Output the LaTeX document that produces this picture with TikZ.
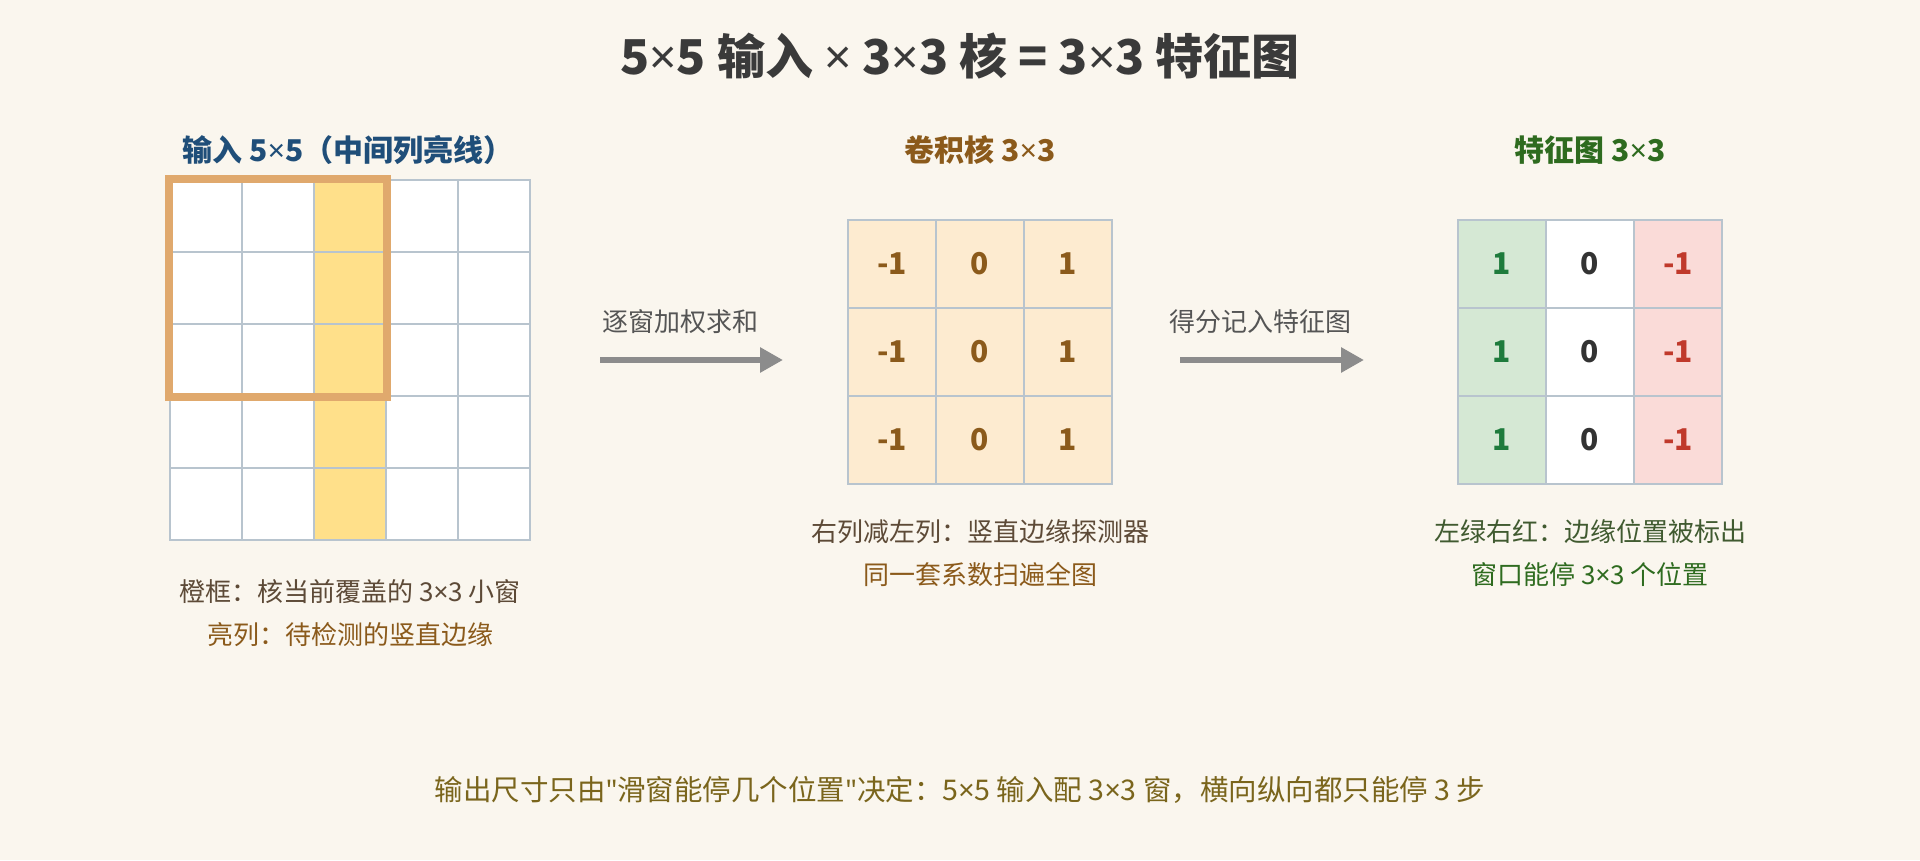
\documentclass[tikz,border=0pt]{standalone}
\usepackage{fontspec}
\setmainfont{Noto Sans CJK SC}[Ligatures=TeXOff]
\newfontfamily\latfont{Noto Sans}[Ligatures=TeXOff]
\usetikzlibrary{arrows.meta}
\definecolor{bgc}{HTML}{FAF6EE}
\definecolor{gridc}{HTML}{B8C4CE}
\definecolor{hlc}{HTML}{FFE08A}
\definecolor{framec}{HTML}{E0A96D}
\definecolor{kfill}{HTML}{FDEBD0}
\definecolor{brownc}{HTML}{8B5A1B}
\definecolor{bluec}{HTML}{1F4E79}
\definecolor{greenc}{HTML}{2E6B1F}
\definecolor{gfill}{HTML}{D5E8D4}
\definecolor{rfill}{HTML}{FADBD8}
\definecolor{gnum}{HTML}{1E7B3C}
\definecolor{rnum}{HTML}{C0392B}
\definecolor{darkc}{HTML}{333333}
\definecolor{titlec}{HTML}{3A3A3A}
\definecolor{arrowc}{HTML}{8C8C8C}
\definecolor{arrlab}{HTML}{555555}
\definecolor{annb}{HTML}{5D4A37}
\definecolor{anng}{HTML}{405A30}
\definecolor{footc}{HTML}{7A651C}
\newcommand\fsTitle{\fontsize{48}{56}\selectfont}
\newcommand\fsLab{\fontsize{30}{36}\selectfont}
\newcommand\fsAnn{\fontsize{26}{30}\selectfont}
\newcommand\fsFoot{\fontsize{28.5}{32}\selectfont}
\newcommand\fsNum{\fontsize{30}{36}\selectfont}
\newcommand\tms{{\latfont ×}}
\newcommand\qq{{\latfont "}}
\begin{document}
\begin{tikzpicture}[x=1pt,y=-1pt,
  incell/.style={draw=gridc,line width=2.5pt,fill=white,minimum size=72pt,inner sep=0pt,anchor=center},
  hlcell/.style={incell,fill=hlc},
  kcell/.style={draw=gridc,line width=2.5pt,fill=kfill,minimum size=88pt,inner sep=0pt,anchor=center,
    font=\fsNum\bfseries,text=brownc},
  fcell/.style={draw=gridc,line width=2.5pt,minimum size=88pt,inner sep=0pt,anchor=center,font=\fsNum\bfseries},
  lab/.style={inner sep=0pt,anchor=center,font=\fsLab\bfseries},
  ann/.style={inner sep=0pt,anchor=center,font=\fsAnn},
  arrlabel/.style={inner sep=0pt,anchor=center,font=\fsAnn,text=arrlab},
  flow/.style={draw=arrowc,line width=6pt,-{Triangle[length=23pt,width=24pt]}}]
\fill[bgc] (0,0) rectangle (1920,860);
\useasboundingbox (0,0) rectangle (1920,860);
% title
\node[inner sep=0pt,anchor=center,font=\fsTitle\bfseries,text=titlec] (title) at (960,56) {5\tms5 输入 \tms\ 3\tms3 核 = 3\tms3 特征图};
% input grid
\foreach \i in {0,...,4}{
  \foreach \j in {0,...,4}{
    \ifnum\j=2
      \node[hlcell] (in-\i-\j) at ({206+72*\j},{216+72*\i}) {};
    \else
      \node[incell] (in-\i-\j) at ({206+72*\j},{216+72*\i}) {};
    \fi
  }
}
\draw[framec,line width=8pt] (in-0-0.north west) rectangle (in-2-2.south east);
\node[lab,text=bluec] (inlab) at (348,150) {输入 5\tms5（中间列亮线）};
\node[ann,text=annb] (inann1) at (350,592) {橙框：核当前覆盖的 3\tms3 小窗};
\node[ann,text=brownc] (inann2) at (350,635) {亮列：待检测的竖直边缘};
% kernel
\foreach \i in {0,1,2}{
  \node[kcell] (k-\i-0) at (892,{264+88*\i}) {-1};
  \node[kcell] (k-\i-1) at (980,{264+88*\i}) {0};
  \node[kcell] (k-\i-2) at (1068,{264+88*\i}) {1};
}
\node[lab,text=brownc] (klab) at (980,150) {卷积核 3\tms3};
\node[ann,text=annb] (kann1) at (980,532) {右列减左列：竖直边缘探测器};
\node[ann,text=brownc] (kann2) at (980,575) {同一套系数扫遍全图};
% feature map
\foreach \i in {0,1,2}{
  \node[fcell,fill=gfill,text=gnum] (f-\i-0) at (1502,{264+88*\i}) {1};
  \node[fcell,fill=white,text=darkc] (f-\i-1) at (1590,{264+88*\i}) {0};
  \node[fcell,fill=rfill,text=rnum] (f-\i-2) at (1678,{264+88*\i}) {-1};
}
\node[lab,text=greenc] (flab) at (1590,150) {特征图 3\tms3};
\node[ann,text=anng] (fann1) at (1590,532) {左绿右红：边缘位置被标出};
\node[ann,text=greenc] (fann2) at (1590,575) {窗口能停 3\tms3 个位置};
% arrows
\coordinate (a1s) at (600,360);
\coordinate (a1e) at (783,360);
\coordinate (a2s) at (1180,360);
\coordinate (a2e) at (1364,360);
\draw[flow] (a1s) -- (a1e);
\draw[flow] (a2s) -- (a2e);
\node[arrlabel] (a1lab) at (680,322) {逐窗加权求和};
\node[arrlabel] (a2lab) at (1260,322) {得分记入特征图};
% footer
\node[inner sep=0pt,anchor=center,font=\fsFoot,text=footc] (foot) at (960,790) {输出尺寸只由\qq 滑窗能停几个位置\qq 决定：5\tms5 输入配 3\tms3 窗，横向纵向都只能停 3 步};
\end{tikzpicture}
\end{document}
